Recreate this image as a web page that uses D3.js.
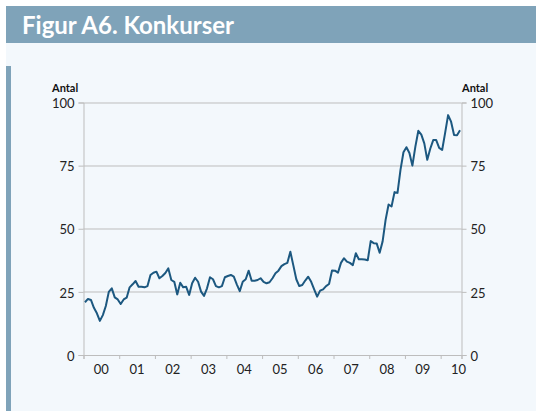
<!DOCTYPE html>
<html>
<head>
<meta charset="utf-8">
<script src="https://cdn.jsdelivr.net/npm/d3@7"></script>
<style>
  body { margin: 0; background: #fff; }
  svg { display: block; }
  .tick-label { font-family: Lato, "Open Sans", sans-serif; font-size: 13px; fill: #222; }
  .unit { font-family: Lato, "Open Sans", sans-serif; font-size: 11px; font-weight: bold; fill: #111; }
</style>
</head>
<body>
<div id="chart"></div>
<script>
// year labels on the x axis (one per year, Jan 2000 - Jul 2010 monthly data)
var yearLabels = ['00','01','02','03','04','05','06','07','08','09','10']
// number of bankruptcies (index), monthly
var konkurser = [
  20.9, 22.2, 21.8, 18.7, 16.5, 13.5, 15.8, 19.4, 25.0, 26.4, 22.8, 22.0,
  20.2, 22.0, 22.7, 26.8, 28.0, 29.3, 27.0, 27.0, 26.8, 27.3, 31.7, 32.6,
  33.0, 30.4, 31.3, 32.5, 34.3, 29.7, 29.0, 24.0, 28.6, 26.8, 27.0, 23.8,
  28.4, 30.6, 29.0, 25.1, 23.4, 26.4, 30.8, 30.0, 27.3, 26.8, 27.3, 30.8,
  31.3, 31.7, 31.0, 28.0, 25.3, 29.0, 30.0, 33.4, 29.4, 29.4, 29.7, 30.4,
  29.0, 28.4, 28.8, 30.4, 32.4, 33.4, 35.2, 36.0, 36.5, 40.9, 35.5, 30.0,
  27.3, 27.7, 29.5, 31.0, 29.0, 26.0, 23.1, 25.5, 26.0, 27.3, 28.1, 33.5,
  33.4, 32.6, 36.5, 38.3, 37.0, 36.5, 35.6, 40.3, 37.9, 37.9, 37.8, 37.5,
  45.1, 44.3, 44.2, 40.5, 45.0, 53.5, 59.6, 58.8, 64.5, 64.2, 73.3, 80.3,
  82.3, 80.0, 75.0, 82.5, 88.8, 87.3, 83.8, 77.3, 81.7, 85.1, 85.1, 82.0,
  81.2, 88.0, 95.0, 92.4, 87.1, 87.0, 89.0
]
var yTicks = [0, 25, 50, 75, 100]
var title = 'Figur A6. Konkurser'
var unitLabel = 'Antal'

var width = 536, height = 411
var margin = {top: 102.5, bottom: 56, left: 83.5, right: 74.5}
var innerW = width - margin.left - margin.right
var innerH = height - margin.top - margin.bottom

var svg = d3.select('#chart')
    .append('svg')
    .attr('width', width)
    .attr('height', height)

// panel + title bar
svg.append('rect').attr('x', 6).attr('y', 43).attr('width', width - 6).attr('height', height - 43).attr('fill', '#f3f8fc')
svg.append('rect').attr('x', 6).attr('y', 66).attr('width', 5).attr('height', height - 66).attr('fill', '#7fa3b9')
svg.append('rect').attr('x', 6).attr('y', 6).attr('width', width - 6).attr('height', 37).attr('fill', '#7fa3b9')
svg.append('text')
    .attr('x', 22).attr('y', 34)
    .attr('fill', '#fff')
    .style('font-family', 'Lato, "Open Sans", sans-serif')
    .style('font-size', '24px')
    .style('font-weight', 'bold')
    .text(title)

var n = konkurser.length
var x = d3.scaleLinear()
    .domain([0, n])
    .range([0, innerW])
var y = d3.scaleLinear()
    .domain([0, 100])
    .range([innerH, 0])

var g = svg.append('g')
    .attr('transform', 'translate(' + margin.left + ',' + margin.top + ')')

// gridlines
g.append('g')
    .selectAll('line')
    .data(yTicks.filter(function(d){return d > 0}))
    .enter()
    .append('line')
    .attr('x1', 0).attr('x2', innerW)
    .attr('y1', function(d){return Math.round(y(d)) + 0.5})
    .attr('y2', function(d){return Math.round(y(d)) + 0.5})
    .attr('stroke', '#bdbdbd')
    .attr('stroke-width', 1)

// left axis
var leftAxis = d3.axisLeft(y).tickValues(yTicks).tickSize(5).tickPadding(4)
var la = g.append('g').call(leftAxis)
// right axis
var rightAxis = d3.axisRight(y).tickValues(yTicks).tickSize(5).tickPadding(4)
var ra = g.append('g').attr('transform', 'translate(' + innerW + ',0)').call(rightAxis)

;[la, ra].forEach(function(a){
    a.select('.domain').attr('stroke', '#bdbdbd')
    a.selectAll('.tick line').attr('stroke', '#bdbdbd')
    a.selectAll('.tick text').attr('class', 'tick-label').attr('fill', null).attr('dy', '0.4em')
})

// x axis with year boundaries
var yearTicks = yearLabels.map(function(d, i){return i * 12})
var xAxis = d3.axisBottom(x).tickValues(yearTicks.concat([n])).tickSize(4).tickFormat('')
var xa = g.append('g').attr('transform', 'translate(0,' + innerH + ')').call(xAxis)
xa.select('.domain').attr('stroke', '#bdbdbd')
xa.selectAll('.tick line').attr('stroke', '#bdbdbd')

g.append('g')
    .selectAll('text')
    .data(yearLabels)
    .enter()
    .append('text')
    .attr('class', 'tick-label')
    .attr('text-anchor', 'middle')
    .attr('x', function(d, i){return x(i * 12 + 6)})
    .attr('y', innerH + 19)
    .text(function(d){return d})

// unit labels
svg.append('text').attr('class', 'unit').attr('x', 52).attr('y', 92).text(unitLabel)
svg.append('text').attr('class', 'unit').attr('x', 462).attr('y', 92).text(unitLabel)

// the series
var line = d3.line()
    .x(function(d, i){return x(i + 0.5)})
    .y(function(d){return y(d)})

g.append('path')
    .datum(konkurser)
    .attr('fill', 'none')
    .attr('stroke', '#1c5880')
    .attr('stroke-width', 2)
    .attr('stroke-linejoin', 'round')
    .attr('d', line)
</script>
</body>
</html>
